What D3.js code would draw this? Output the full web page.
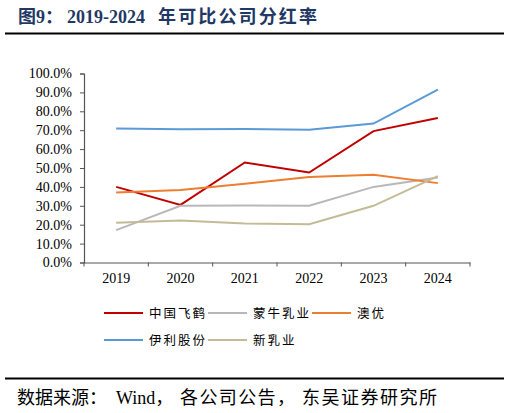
<!DOCTYPE html>
<html>
<head>
<meta charset="utf-8">
<script src="https://cdn.jsdelivr.net/npm/d3@7"></script>
<style>
  body { margin: 0; background: #fff; }
  svg text { font-family: "Liberation Serif", "Noto Sans CJK SC", serif; }
</style>
</head>
<body>
<div id="chart"></div>
<script>
// years on the x axis
const years = ["2019", "2020", "2021", "2022", "2023", "2024"];

// payout ratio (%) per company
const feihe = [40.0, 30.5, 52.9, 47.6, 69.5, 76.5];
const mengniu = [17.1, 30.0, 30.2, 30.0, 40.0, 45.0];
const ausnutria = [37.0, 38.4, 41.7, 45.3, 46.4, 42.0];
const yili = [70.9, 70.5, 70.6, 70.3, 73.5, 91.5];
const newDairy = [21.0, 22.2, 20.6, 20.3, 30.0, 45.7];

const seriesNames = ["中国飞鹤", "蒙牛乳业", "澳优", "伊利股份", "新乳业"];
const yTicks = [0, 10, 20, 30, 40, 50, 60, 70, 80, 90, 100];

const series = [
  { name: seriesNames[0], values: feihe, color: "#c00000" },
  { name: seriesNames[1], values: mengniu, color: "#b8b8b8" },
  { name: seriesNames[2], values: ausnutria, color: "#ed7d31" },
  { name: seriesNames[3], values: yili, color: "#5b9bd5" },
  { name: seriesNames[4], values: newDairy, color: "#c4bb96" }
];

const width = 510, height = 413;

const svg = d3.select("#chart")
  .append("svg")
  .attr("width", width)
  .attr("height", height);

// title, in pieces so the gaps sit like the original
const title = svg.append("text")
  .attr("y", 23)
  .attr("font-size", "18px")
  .attr("font-weight", "bold")
  .attr("fill", "#1f3864");
title.append("tspan").attr("x", 18).text("图9：");
title.append("tspan").attr("x", 67).text("2019-2024");
title.append("tspan").attr("x", 158).attr("textLength", 159)
  .attr("lengthAdjust", "spacing").text("年可比公司分红率");

svg.append("line")
  .attr("x1", 5).attr("x2", 504)
  .attr("y1", 33.5).attr("y2", 33.5)
  .attr("stroke", "#000").attr("stroke-width", 2);

svg.append("line")
  .attr("x1", 5).attr("x2", 504)
  .attr("y1", 378.5).attr("y2", 378.5)
  .attr("stroke", "#000").attr("stroke-width", 2);

const source = svg.append("text")
  .attr("y", 404)
  .attr("font-size", "18px")
  .attr("fill", "#000");
source.append("tspan").attr("x", 17).attr("textLength", 90)
  .attr("lengthAdjust", "spacing").text("数据来源：");
source.append("tspan").attr("x", 116).text("Wind，");
source.append("tspan").attr("x", 180).attr("textLength", 115)
  .attr("lengthAdjust", "spacing").text("各公司公告，");
source.append("tspan").attr("x", 302).attr("textLength", 135)
  .attr("lengthAdjust", "spacing").text("东吴证券研究所");

// plot area
const x = d3.scaleBand().domain(years).range([84, 470]);
const y = d3.scaleLinear().domain([0, 100]).range([262.5, 73.5]);

const yAxis = d3.axisLeft(y)
  .tickValues(yTicks)
  .tickSize(4)
  .tickPadding(8)
  .tickFormat(d => d.toFixed(1) + "%");

const gy = svg.append("g")
  .attr("transform", "translate(84,0)")
  .call(yAxis);

const xAxis = d3.axisBottom(x).tickSize(0).tickPadding(11);

const gx = svg.append("g")
  .attr("transform", "translate(0,262.5)")
  .call(xAxis);

// band boundary ticks on the x axis
gx.selectAll(".bound")
  .data(d3.range(years.length + 1))
  .enter().append("line")
  .attr("x1", i => 84 + i * x.step())
  .attr("x2", i => 84 + i * x.step())
  .attr("y1", 0).attr("y2", 4)
  .attr("stroke", "#555");

[gx, gy].forEach(g => {
  g.select(".domain").attr("stroke", "#555").attr("stroke-width", 1.2);
  g.selectAll(".tick line").attr("stroke", "#555");
  g.selectAll("text")
    .attr("font-family", "Liberation Serif")
    .attr("font-size", "14px")
    .attr("fill", "#000");
});

const line = d3.line()
  .x((d, i) => x(years[i]) + x.bandwidth() / 2)
  .y(d => y(d));

svg.append("g")
  .selectAll("path")
  .data(series)
  .enter().append("path")
  .attr("d", d => line(d.values))
  .attr("fill", "none")
  .attr("stroke", d => d.color)
  .attr("stroke-width", 2);

// legend
const legendPos = [[104, 313], [208, 313], [312, 313], [104, 340], [208, 340]];
const legend = svg.append("g")
  .selectAll("g")
  .data(series)
  .enter().append("g")
  .attr("transform", (d, i) => `translate(${legendPos[i][0]},${legendPos[i][1]})`);

legend.append("line")
  .attr("x1", 0).attr("x2", 39)
  .attr("y1", 0).attr("y2", 0)
  .attr("stroke", d => d.color)
  .attr("stroke-width", 2);

legend.append("text")
  .attr("x", 45)
  .attr("y", 4.5)
  .attr("font-size", "12.5px")
  .attr("letter-spacing", "2px")
  .attr("fill", "#000")
  .text(d => d.name);
</script>
</body>
</html>
